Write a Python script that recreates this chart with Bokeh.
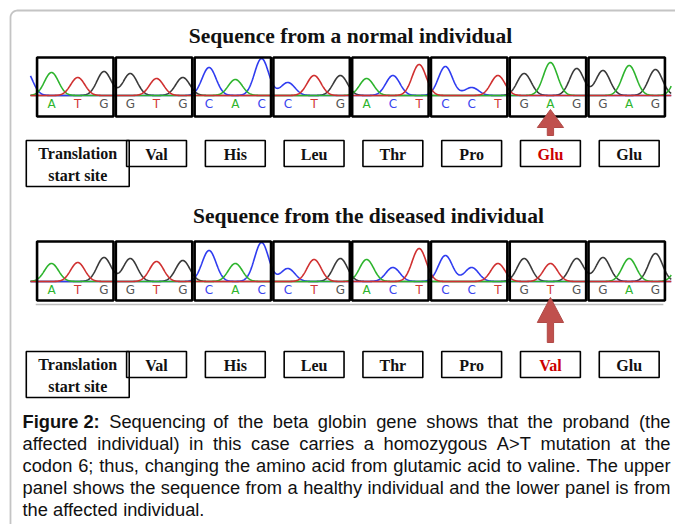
import numpy as np
from bokeh.plotting import figure
from bokeh.models import Range1d
from bokeh.core.properties import value
from bokeh.embed import file_html
from bokeh.resources import INLINE

# ---------------- data ----------------
panel_titles = ["Sequence from a normal individual", "Sequence from the diseased individual"]
codons_normal = ["ATG", "GTG", "CAC", "CTG", "ACT", "CCT", "GAG", "GAG"]
codons_diseased = ["ATG", "GTG", "CAC", "CTG", "ACT", "CCT", "GTG", "GAG"]
amino_normal = ["Translation start site", "Val", "His", "Leu", "Thr", "Pro", "Glu", "Glu"]
amino_diseased = ["Translation start site", "Val", "His", "Leu", "Thr", "Pro", "Val", "Glu"]
# peak heights (signal) for each called base
peaks_normal = [23, 18, 24, 22, 17, 18, 28, 16, 37, 13, 20, 20,
                17, 20, 31, 29, 8, 20, 22, 33, 27, 25, 30, 26]
peaks_diseased = [18, 19, 24, 23, 20, 21, 31, 18, 39, 13, 22, 23,
                  22, 14, 33, 26, 14, 18, 23, 18, 23, 24, 23, 28]
# flanking peaks just outside the shown window (before, after)
flank_bases = ["C", "A"]
flank_normal = [26, 29]
flank_diseased = [0, 20]
mutated_codon = 6
mutated_base = 19
caption_bold = "Figure 2:"
caption_lines = [
    "Sequencing of the beta globin gene shows that the proband (the",
    "affected individual) in this case carries a homozygous A>T mutation at the",
    "codon 6; thus, changing the amino acid from glutamic acid to valine. The upper",
    "panel shows the sequence from a healthy individual and the lower panel is from",
    "the affected individual.",
]

# ---------------- styles / layout ----------------
W, H = 675, 524
BASE_X0, BASE_DX = 51.0, 26.26
SIGMA = 7.0 / BASE_DX
base_colors = {"A": "#2db42d", "C": "#2f3cf0", "G": "#3a3a3a", "T": "#d03030"}
letter_colors = {"A": "#2db42d", "C": "#3a44ee", "G": "#555555", "T": "#d03535"}
baselines = [95, 281]
box_tb = [(38, -21), (40, -19)]
aa_rows = [(140, 166, 186), (351, 377, 397)]
arrows = [(109, 127, 135), (297, 322, 342)]
title_pos = [(350, 35), (368, 215)]
ARROW = "#c0504d"
SERIF = value("Liberation Serif")
CAP_X0, CAP_X1, CAP_Y0, CAP_DY = 22, 670, 421, 22

# Arial / Liberation Sans advance widths (1/1000 em) for caption justification
_reg = {" ": 278, "(": 333, ")": 333, ",": 278, ".": 278, ":": 278, ";": 278, ">": 584,
        "A": 667, "T": 611, "F": 611}
_reg.update({c: 556 for c in "0123456789abdeghnopqu"})
_reg.update({"c": 500, "f": 278, "i": 222, "j": 222, "k": 500, "l": 222, "m": 833,
             "r": 333, "s": 500, "t": 278, "v": 500, "w": 722, "x": 500, "y": 500, "z": 500})
_bold = {"F": 611, "i": 278, "g": 611, "u": 611, "r": 389, "e": 556, " ": 278, "2": 556, ":": 333}


def units(s, table):
    return sum(table.get(ch, 556) for ch in s)


p = figure(width=W, height=H, x_range=Range1d(0, W), y_range=Range1d(H, 0),
           x_axis_type=None, y_axis_type=None, output_backend="svg",
           toolbar_location=None, min_border=0)
p.grid.visible = False
p.outline_line_color = None
p.background_fill_color = "white"
p.extra_x_ranges = {"idx": Range1d((0 - BASE_X0) / BASE_DX, (W - BASE_X0) / BASE_DX)}
for k, b in enumerate(baselines):
    p.extra_y_ranges[f"sig{k}"] = Range1d(-(H - b), b)

# outer rounded frame
r = 7
ang = np.linspace(np.pi, 1.5 * np.pi, 12)
fx = [10] + list(10 + r + r * np.cos(ang)) + [700]
fy = [540] + list(10 + r + r * np.sin(ang)) + [10]
p.line(fx, fy, line_color="#c4c4c4", line_width=1.8)

# titles
for t, (tx, ty) in zip(panel_titles, title_pos):
    p.text(x=[tx], y=[ty], text=[t], text_font=SERIF, text_font_style="bold",
           text_font_size="21.5px", text_align="center", text_baseline="middle",
           text_color="#111111")

# chromatogram panels
tgrid = np.linspace(-0.8, 23.6, 1400)
panels = [(codons_normal, peaks_normal, flank_normal),
          (codons_diseased, peaks_diseased, flank_diseased)]
for k, (codons, peaks, flank) in enumerate(panels):
    seq = "".join(codons)
    yr = f"sig{k}"
    for ch in "GCAT":
        y = np.zeros_like(tgrid)
        for i, (bch, h) in enumerate(zip(seq, peaks)):
            if bch == ch:
                y += h * np.exp(-(tgrid - i) ** 2 / (2 * SIGMA ** 2))
        for pos, bch, h in zip([-1, len(seq)], flank_bases, flank):
            if bch == ch:
                y += h * np.exp(-(tgrid - pos) ** 2 / (2 * SIGMA ** 2))
        p.line(tgrid, y, line_color=base_colors[ch], line_width=1.6,
               x_range_name="idx", y_range_name=yr)
    # codon boxes
    top, bot = box_tb[k]
    lefts = [3 * c - 0.55 for c in range(len(codons))]
    rights = [3 * c + 2.36 for c in range(len(codons))]
    p.quad(left=lefts, right=rights, top=top, bottom=bot, fill_color=None,
           line_color="black", line_width=2.6, x_range_name="idx", y_range_name=yr)
    # base letters
    p.text(x=list(range(len(seq))), y=[-8.5] * len(seq), text=list(seq),
           text_color=[letter_colors[c] for c in seq], text_font=value("DejaVu Sans"),
           text_font_size="12px", text_align="center", text_baseline="middle",
           x_range_name="idx", y_range_name=yr)

# grey rule under the lower panel
p.line([-0.6, 23.3], [-23, -23], line_color="#bdbdbd", line_width=1.5,
       x_range_name="idx", y_range_name="sig1")

# amino acid boxes
for k, aminos in enumerate([amino_normal, amino_diseased]):
    top, bot, bot_tss = aa_rows[k]
    for c, aa in enumerate(aminos):
        cx = 3 * c + 1
        if c == 0:
            hw, b2 = 1.96, bot_tss
        else:
            hw, b2 = 1.14, bot
        p.quad(left=[cx - hw], right=[cx + hw], top=[top], bottom=[b2],
               fill_color=None, line_color="black", line_width=1.6, x_range_name="idx")
        color = "#cc0000" if (c == mutated_codon) else "#111111"
        if c == 0:
            words = aa.split(" ")
            lines = [words[0], " ".join(words[1:])]
            for j, ln in enumerate(lines):
                p.text(x=[cx], y=[top + 13 + 22 * j], text=[ln], text_font=SERIF,
                       text_font_style="bold", text_font_size="16px", text_align="center",
                       text_baseline="middle", text_color=color, x_range_name="idx")
        else:
            p.text(x=[cx], y=[(top + b2) / 2 + 1], text=[aa], text_font=SERIF,
                   text_font_style="bold", text_font_size="16px", text_align="center",
                   text_baseline="middle", text_color=color, x_range_name="idx")

# arrows pointing at the mutated base
for tip, hb, sb in arrows:
    m = mutated_base
    xs = [m, m + 0.5, m + 0.12, m + 0.12, m - 0.12, m - 0.12, m - 0.5]
    ys = [tip, hb, hb, sb, sb, hb, hb]
    p.patch(xs, ys, fill_color=ARROW, line_color="#b14a47", line_width=1,
            x_range_name="idx")

# caption (justified, word by word)
fs = 0.985 * (CAP_X1 - CAP_X0) * 1000.0 / units(caption_lines[2], _reg)
wx, wy, wt = [], [], []
for j, ln in enumerate(caption_lines):
    words = ln.split(" ")
    widths = [units(w, _reg) * fs / 1000 for w in words]
    if j == 0:
        bw = units(caption_bold, _bold) * fs / 1000
        widths = [bw] + widths
        words = [None] + words
    n = len(words)
    if j < len(caption_lines) - 1 and n > 1:
        gap = (CAP_X1 - CAP_X0 - sum(widths)) / (n - 1)
    else:
        gap = _reg[" "] * fs / 1000
    x = CAP_X0
    for w, wd in zip(words, widths):
        if w is not None:
            wx.append(x)
            wy.append(CAP_Y0 + CAP_DY * j)
            wt.append(w)
        x += wd + gap
p.text(x=[CAP_X0], y=[CAP_Y0], text=[caption_bold], text_font=value("Liberation Sans"),
       text_font_style="bold", text_font_size=f"{fs:.2f}px", text_align="left",
       text_baseline="middle", text_color="#111111")
p.text(x=wx, y=wy, text=wt, text_font=value("Liberation Sans"),
       text_font_size=f"{fs:.2f}px", text_align="left", text_baseline="middle",
       text_color="#111111")

open("out.html", "w").write(file_html(p, INLINE))
